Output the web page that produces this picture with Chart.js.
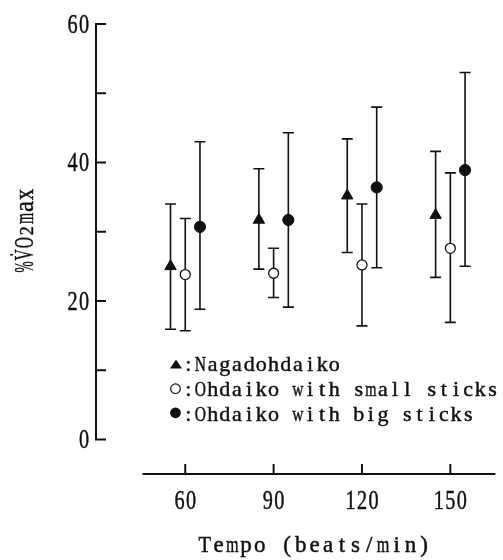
<!DOCTYPE html>
<html><head><meta charset="utf-8">
<script src="https://cdn.jsdelivr.net/npm/chart.js@4"></script>
<style>html,body{margin:0;padding:0;background:#fff;}canvas{display:block;}</style>
</head><body>
<canvas id="c" width="503" height="560"></canvas>
<script>
// ---- data ----
const tempos = [60, 90, 120, 150];
const seriesNames = ['Nagadohdaiko', 'Ohdaiko with small sticks', 'Ohdaiko with big sticks'];
const nagaMean  = [25.0, 31.7, 35.2, 32.4];
const nagaHigh  = [34.0, 39.1, 43.4, 41.6];
const nagaLow   = [15.9, 24.6, 27.0, 23.4];
const smallMean = [23.8, 24.0, 25.2, 27.6];
const smallHigh = [31.9, 27.6, 34.0, 38.5];
const smallLow  = [15.7, 20.5, 16.4, 16.9];
const bigMean   = [30.7, 31.7, 36.4, 38.9];
const bigHigh   = [43.0, 44.3, 48.0, 53.0];
const bigLow    = [18.8, 19.1, 24.8, 25.0];
const yTickLabels = [0, 20, 40, 60];
const yTickMarks  = [0, 10, 20, 30, 40, 50, 60];
const xTickLabels = [60, 90, 120, 150];
const xTitle = 'Tempo (beats/min)';
const yTitleParts = ['%', 'V\u0307', 'O', '2', 'm', 'a', 'x'];

// ---- style ----
const INK = '#111';
const SERIF = '"Liberation Serif", "DejaVu Serif", serif';
const groupOffsets = [-5, 0, 5];
const X_AXIS_START = 45.5;

function cellText(ctx, chars, x0, baseY, cell, px, fit) {
  chars.forEach((c, i) => {
    const t = (typeof c === 'string') ? c : c.t;
    const size = (typeof c === 'string') ? px : c.px;
    ctx.font = size + 'px ' + SERIF;
    const w = ctx.measureText(t).width;
    const maxW = cell * fit;
    const sx = w > maxW ? maxW / w : 1;
    ctx.save();
    ctx.translate(x0 + (i + 0.5) * cell, baseY);
    ctx.scale(sx, 1);
    ctx.textAlign = 'center';
    ctx.textBaseline = 'alphabetic';
    ctx.fillStyle = INK;
    ctx.strokeStyle = INK;
    ctx.lineWidth = 0.45;
    ctx.fillText(t, 0, 0);
    ctx.strokeText(t, 0, 0);
    ctx.restore();
  });
}

const errorBars = {
  id: 'errorBars',
  beforeDatasetsDraw(chart) {
    const ctx = chart.ctx, xs = chart.scales.x, ys = chart.scales.y;
    const highs = [nagaHigh, smallHigh, bigHigh];
    const lows = [nagaLow, smallLow, bigLow];
    ctx.save();
    ctx.strokeStyle = INK;
    ctx.lineWidth = 1.6;
    for (let i = 0; i < 3; i++) {
      tempos.forEach((t, j) => {
        const px = xs.getPixelForValue(t + groupOffsets[i]);
        const yh = ys.getPixelForValue(highs[i][j]);
        const yl = ys.getPixelForValue(lows[i][j]);
        ctx.beginPath();
        ctx.moveTo(px, yh); ctx.lineTo(px, yl);
        ctx.moveTo(px - 5.5, yh); ctx.lineTo(px + 5.5, yh);
        ctx.moveTo(px - 5.5, yl); ctx.lineTo(px + 5.5, yl);
        ctx.stroke();
      });
    }
    ctx.restore();
  }
};

const axesAndText = {
  id: 'axesAndText',
  afterDraw(chart) {
    const ctx = chart.ctx, xs = chart.scales.x, ys = chart.scales.y, a = chart.chartArea;
    ctx.save();
    ctx.strokeStyle = INK;
    ctx.lineWidth = 2;
    // y axis
    const ax = a.left;
    ctx.beginPath();
    ctx.moveTo(ax, ys.getPixelForValue(60) - 1);
    ctx.lineTo(ax, ys.getPixelForValue(0) + 1);
    yTickMarks.forEach(v => {
      const py = ys.getPixelForValue(v);
      ctx.moveTo(ax - 1, py); ctx.lineTo(ax + 10, py);
    });
    ctx.stroke();
    // x axis
    const by = a.bottom;
    ctx.beginPath();
    ctx.moveTo(xs.getPixelForValue(X_AXIS_START), by);
    ctx.lineTo(a.right, by);
    xTickLabels.forEach(v => {
      const px = xs.getPixelForValue(v);
      ctx.moveTo(px, by); ctx.lineTo(px, by - 10);
    });
    ctx.stroke();

    // y tick labels
    yTickLabels.forEach(v => {
      const s = Array.from(String(v));
      const py = ys.getPixelForValue(v);
      cellText(ctx, s, ax - 6.3 - s.length * 11.5, py + 9, 11.5, 27, 0.88);
    });
    // x tick labels
    xTickLabels.forEach(v => {
      const s = Array.from(String(v));
      const px = xs.getPixelForValue(v);
      cellText(ctx, s, px - s.length * 11.5 / 2, by + 35, 11.5, 27, 0.88);
    });
    // x title
    const xt = Array.from(xTitle);
    cellText(ctx, xt, 314.5 - xt.length * 13.7 / 2, 552, 13.7, 23, 0.92);
    // y title (rotated)
    ctx.save();
    ctx.translate(33, 273);
    ctx.rotate(-Math.PI / 2);
    const parts = yTitleParts.map(p => p === '2' ? {t: p, px: 18} : p);
    cellText(ctx, parts, 0, 0, 12.1, 28, 0.92);
    ctx.restore();

    // legend
    const lx = 176, tx = 182.2, cell = 12.17;
    const baselines = [371, 396, 421];
    ctx.fillStyle = INK;
    ctx.strokeStyle = INK;
    ctx.beginPath();
    ctx.moveTo(lx, baselines[0] - 11.5);
    ctx.lineTo(lx + 6, baselines[0] - 2.5);
    ctx.lineTo(lx - 6, baselines[0] - 2.5);
    ctx.closePath();
    ctx.fill();
    ctx.lineWidth = 1.2;
    ctx.beginPath();
    ctx.arc(lx - 0.5, baselines[1] - 7.3, 4.8, 0, Math.PI * 2);
    ctx.stroke();
    ctx.beginPath();
    ctx.arc(lx - 0.5, baselines[2] - 8.2, 5.4, 0, Math.PI * 2);
    ctx.fill();
    seriesNames.forEach((n, i) => {
      cellText(ctx, Array.from(':' + n), tx, baselines[i], cell, 22, 0.92);
    });
    ctx.restore();
  }
};

const datasets = [
  { label: seriesNames[0], means: nagaMean, style: 'triangle', radius: 6.6, bg: INK, bw: 1 },
  { label: seriesNames[1], means: smallMean, style: 'circle', radius: 5, bg: '#fff', bw: 1.3 },
  { label: seriesNames[2], means: bigMean, style: 'circle', radius: 5.6, bg: INK, bw: 1 }
].map((d, i) => ({
  label: d.label,
  data: tempos.map((t, j) => ({ x: t + groupOffsets[i], y: d.means[j] })),
  pointStyle: d.style,
  pointRadius: d.radius,
  pointBackgroundColor: d.bg,
  pointBorderColor: INK,
  pointBorderWidth: d.bw,
  showLine: false,
  clip: false
}));

new Chart(document.getElementById('c'), {
  type: 'scatter',
  data: { datasets },
  options: {
    responsive: false,
    animation: false,
    devicePixelRatio: 1,
    events: [],
    layout: { padding: { left: 96, top: 24, right: 6, bottom: 86 } },
    scales: {
      x: { type: 'linear', min: 29.7, max: 165.3, display: false },
      y: { type: 'linear', min: -5, max: 60, display: false }
    },
    plugins: { legend: { display: false }, tooltip: { enabled: false } }
  },
  plugins: [errorBars, axesAndText]
});
</script>
</body></html>
